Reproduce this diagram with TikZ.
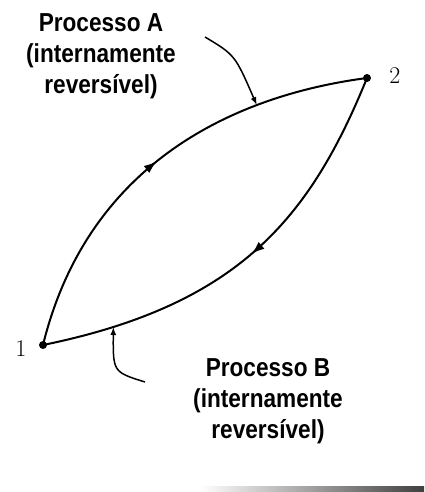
\documentclass[tikz,border=0pt]{standalone}
\usepackage{fontspec}
\newfontfamily\procfont[FakeStretch=0.87]{Liberation Sans}
\usepackage{tikz}
\usetikzlibrary{arrows.meta, decorations.markings}

\begin{document}
\begin{tikzpicture}[x=1pt, y=-1pt,
    statedot/.style={circle, fill=black, inner sep=0pt, minimum size=8pt},
    process/.style={line width=2pt, postaction={decorate},
        decoration={markings, mark=at position #1 with {\arrow{Latex[length=13pt,width=9pt]}}}},
    pointer/.style={line width=1.5pt, -{Latex[length=8pt,width=6pt]}},
    proclabel/.style={font=\procfont\bfseries\fontsize{26}{31}\selectfont, align=center, inner sep=0pt},
    statenum/.style={font=\fontsize{24}{24}\selectfont, inner sep=0pt}]

    \useasboundingbox (0,0) rectangle (424,492);

    % State points
    \node[statedot] (s1) at (43,345) {};
    \node[statedot] (s2) at (367,78) {};
    \node[statenum] (n1) at (21,349) {1};
    \node[statenum] (n2) at (395,76) {2};

    % Process A (1 -> 2)
    \draw[process=0.49] (s1.center) .. controls (87,166) and (230,96) .. (s2.center)
        coordinate[pos=0.73] (hitA);

    % Process B (2 -> 1)
    \draw[process=0.48] (s2.center) .. controls (310,218) and (239,305) .. (s1.center)
        coordinate[pos=0.87] (hitB);

    % Labels with pointers
    \node[proclabel] (labA) at (101,56) {Processo A\\(internamente\\reversível)};
    \node[proclabel] (labB) at (268,401) {Processo B\\(internamente\\reversível)};
    \coordinate (fromA) at (205,37);
    \coordinate (fromB) at (145,382);
    \draw[pointer] (fromA) .. controls (235,55) .. (hitA);
    \draw[pointer] (fromB) .. controls (113,372) .. (hitB);

    % Page edge shadow
    \shade[left color=white, right color=black!75] (200,486) rectangle (424,492);

\end{tikzpicture}
\end{document}
